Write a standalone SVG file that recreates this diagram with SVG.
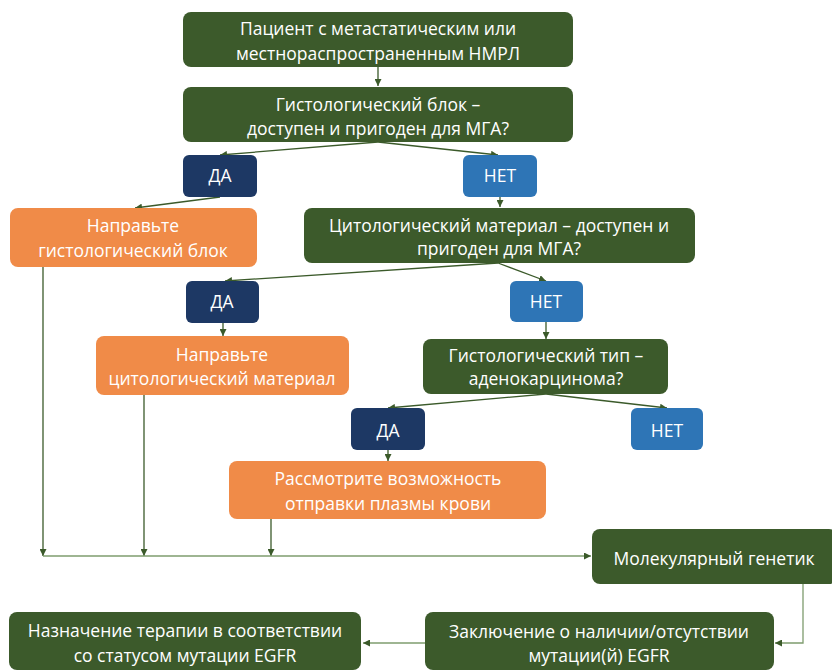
<svg xmlns="http://www.w3.org/2000/svg" width="832" height="670" viewBox="0 0 832 670">
<defs>
<marker id="ah" viewBox="0 0 10 10" refX="10" refY="5" markerWidth="7" markerHeight="7" markerUnits="userSpaceOnUse" orient="auto">
<path d="M0,0 L10,5 L0,10 z" fill="#3B5A2A"/>
</marker>
<style>
.g{fill:#3C5A2B}
.o{fill:#F08B48}
.db{fill:#1D3864}
.lb{fill:#2E75B6}
text{font-family:"Open Sans","Liberation Sans",sans-serif;font-size:17.5px;fill:#FFFFFF;text-anchor:middle}
.c{fill:none;stroke:#3B5A2A;stroke-width:1.3}
.cl{fill:none;stroke:#7E9C6E;stroke-width:1.3}
</style>
</defs>
<rect width="832" height="670" fill="#FFFFFF"/>
<g id="connectors">
<path class="c" d="M378,67 L378,86" marker-end="url(#ah)"/>
<path class="c" d="M378,142 L220,155" marker-end="url(#ah)"/>
<path class="c" d="M378,142 L498,155" marker-end="url(#ah)"/>
<path class="c" d="M220,197 L135,208" marker-end="url(#ah)"/>
<path class="c" d="M500,197 L500,207" marker-end="url(#ah)"/>
<path class="c" d="M498,263 L225,281" marker-end="url(#ah)"/>
<path class="c" d="M498,263 L546,281" marker-end="url(#ah)"/>
<path class="c" d="M223,323 L223,336" marker-end="url(#ah)"/>
<path class="c" d="M546,322 L546,339" marker-end="url(#ah)"/>
<path class="c" d="M546,394 L388,408" marker-end="url(#ah)"/>
<path class="c" d="M546,394 L667,408" marker-end="url(#ah)"/>
<path class="c" d="M388,450 L388,461" marker-end="url(#ah)"/>
<path class="c" d="M43,267 L43,556" marker-end="url(#ah)"/>
<path class="c" d="M144,395 L144,556" marker-end="url(#ah)"/>
<path class="c" d="M271,519 L271,556" marker-end="url(#ah)"/>
<path class="cl" d="M43,556 L591,556" marker-end="url(#ah)"/>
<path class="cl" d="M803,584 L803,643 L775,643" marker-end="url(#ah)"/>
<path class="cl" d="M425,643 L363,643" marker-end="url(#ah)"/>
</g>
<g id="n1"><rect class="g" x="183" y="12" width="390" height="55" rx="8"/><text x="378" y="35">Пациент с метастатическим или</text><text x="378" y="60">местнораспространенным НМРЛ</text></g>
<g id="n2"><rect class="g" x="183" y="87" width="390" height="55" rx="8"/><text x="378" y="111">Гистологический блок –</text><text x="378" y="135">доступен и пригоден для МГА?</text></g>
<g id="n3"><rect class="db" x="183" y="155" width="74" height="42" rx="6"/><text x="220" y="182">ДА</text></g>
<g id="n4"><rect class="lb" x="463" y="155" width="74" height="42" rx="6"/><text x="500" y="182">НЕТ</text></g>
<g id="n5"><rect class="o" x="10" y="208" width="247" height="59" rx="8"/><text x="133" y="232">Направьте</text><text x="133" y="257">гистологический блок</text></g>
<g id="n6"><rect class="g" x="304" y="208" width="391" height="55" rx="8"/><text x="499" y="232">Цитологический материал – доступен и</text><text x="499" y="255">пригоден для МГА?</text></g>
<g id="n7"><rect class="db" x="186" y="281" width="73" height="42" rx="6"/><text x="222" y="308">ДА</text></g>
<g id="n8"><rect class="lb" x="510" y="281" width="73" height="41" rx="6"/><text x="546" y="308">НЕТ</text></g>
<g id="n9"><rect class="o" x="96" y="336" width="253" height="59" rx="8"/><text x="222" y="361">Направьте</text><text x="222" y="385">цитологический материал</text></g>
<g id="n10"><rect class="g" x="423" y="339" width="245" height="55" rx="8"/><text x="546" y="362">Гистологический тип –</text><text x="546" y="385">аденокарцинома?</text></g>
<g id="n11"><rect class="db" x="351" y="408" width="74" height="42" rx="6"/><text x="388" y="437">ДА</text></g>
<g id="n12"><rect class="lb" x="631" y="408" width="72" height="42" rx="6"/><text x="667" y="437">НЕТ</text></g>
<g id="n13"><rect class="o" x="229" y="461" width="317" height="58" rx="8"/><text x="388" y="485">Рассмотрите возможность</text><text x="388" y="510">отправки плазмы крови</text></g>
<g id="n14"><rect class="g" x="592" y="529" width="245" height="55" rx="8"/><text x="714" y="565">Молекулярный генетик</text></g>
<g id="n15"><rect class="g" x="425" y="612" width="349" height="58" rx="8"/><text x="599" y="638">Заключение о наличии/отсутствии</text><text x="599" y="662">мутации(й) EGFR</text></g>
<g id="n16"><rect class="g" x="9" y="612" width="352" height="58" rx="8"/><text x="185" y="637">Назначение терапии в соответствии</text><text x="185" y="662">со статусом мутации EGFR</text></g>
</svg>
